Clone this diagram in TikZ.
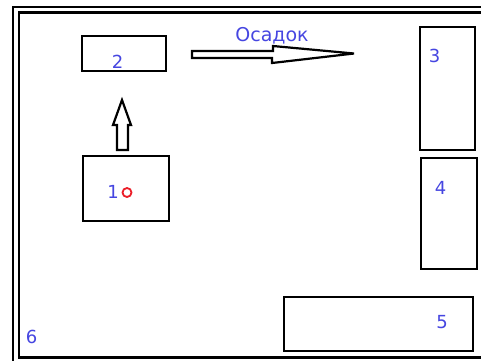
\documentclass[tikz,border=0pt]{standalone}
\usepackage{fontspec}
\setmainfont{DejaVu Sans}
\definecolor{lbl}{RGB}{70,70,225}
\definecolor{dot}{RGB}{235,30,40}
\tikzset{
  box/.style={draw=black, line width=2.6pt, inner sep=0pt, outer sep=0pt},
  lab/.style={text=lbl, font=\fontsize{18}{18}\selectfont, inner sep=0pt, anchor=base},
  blockarrow/.style={draw=black, line width=2.2pt, line join=miter, miter limit=3, fill=white},
  frame/.style={draw=black, line width=2.5pt}
}
\begin{document}
\begin{tikzpicture}[x=1pt,y=-1pt]
\useasboundingbox (0,0) rectangle (481,360);
\clip (0,0) rectangle (481,360);
\fill[white] (0,0) rectangle (481,360);
% double outer frame
\draw[frame] (13,7) rectangle (495,370);
\draw[frame] (19,12.5) rectangle (490,357.5);
% boxes
\node[box, minimum width=84pt, minimum height=35pt] (b2) at (124,53.5) {};
\node[box, minimum width=86pt, minimum height=65pt] (b1) at (126,188.5) {};
\node[box, minimum width=55pt, minimum height=123pt] (b3) at (447.5,88.5) {};
\node[box, minimum width=56pt, minimum height=111pt] (b4) at (449,213.5) {};
\node[box, minimum width=189pt, minimum height=54pt] (b5) at (378.5,324) {};
% labels
\node[lab] (l2) at (117.5,68) {2};
\node[lab] (l1) at (113,198) {1};
\node[lab] (l3) at (434.5,62) {3};
\node[lab] (l4) at (440.5,194) {4};
\node[lab] (l5) at (442,328) {5};
\node[lab] (l6) at (31.5,343) {6};
\node[lab, font=\fontsize{19}{19}\selectfont] (lo) at (272,41) {Осадок};
% red marker
\node[draw=dot, line width=1.8pt, circle, minimum size=9pt, inner sep=0pt] (m) at (127,192.5) {};
% up arrow
\draw[blockarrow] (117,150) -- (117,125) -- (113,125) -- (122,100) -- (131,125) -- (128,125) -- (128,150) -- cycle;
% right arrow
\draw[blockarrow] (192,51) -- (273,51) -- (273,46) -- (354,53.5) -- (272,63) -- (272,58) -- (192,58) -- cycle;
\end{tikzpicture}
\end{document}
